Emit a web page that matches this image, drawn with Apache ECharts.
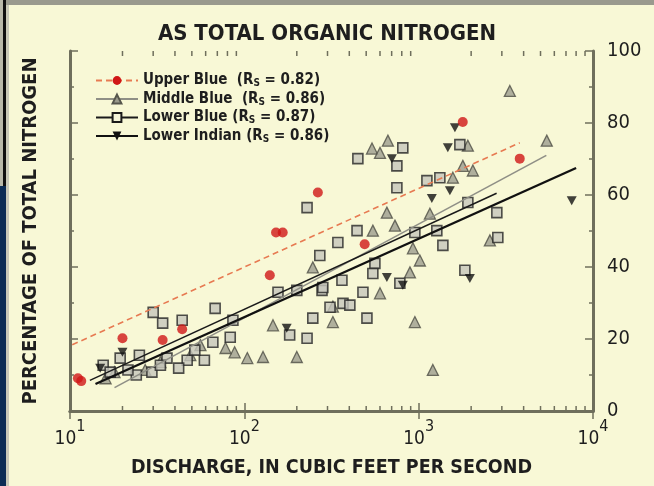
<!DOCTYPE html>
<html>
<head>
<meta charset="utf-8">
<script src="https://cdn.jsdelivr.net/npm/echarts@6/dist/echarts.min.js"></script>
<style>
  html, body { margin: 0; padding: 0; background: #f8f8d6; }
  #chart { width: 654px; height: 486px; }
</style>
</head>
<body>
<div id="chart"></div>
<script>
// Discharge (cfs) vs. percentage of total nitrogen present as organic nitrogen

const seriesNames = ['Upper Blue', 'Middle Blue', 'Lower Blue', 'Lower Indian'];
const spearman = { 'Upper Blue': '0.82', 'Middle Blue': '0.86', 'Lower Blue': '0.87', 'Lower Indian': '0.86' };
const nameGap = { 'Upper Blue': '  ', 'Middle Blue': '  ', 'Lower Blue': ' ', 'Lower Indian': ' ' };

// [discharge, percent]
const upperBlue = [
  [11.1, 9.1], [11.6, 8.3], [20, 20.2], [34, 19.7], [44, 22.7], [140, 37.7],
  [152, 49.6], [166, 49.6], [264, 60.7], [490, 46.3], [1790, 80.3], [3800, 70.1]
];

const middleBlue = [
  [3334, 88.9], [5430, 75.1], [666, 75.1], [540, 72.9], [600, 71.7], [1915, 73.7],
  [1792, 68.1], [2046, 66.8], [1571, 64.8], [657, 55.1], [1160, 54.8], [546, 50.1],
  [731, 51.5], [927, 45.2], [1016, 41.8], [891, 38.5], [600, 32.7], [322, 24.7],
  [951, 24.7], [1206, 11.4], [88, 16.3], [104, 14.7], [128, 15], [200, 15],
  [247, 39.9], [2561, 47.4], [16, 9.1], [18, 10.8], [27, 11.4], [33, 13.6],
  [49, 15.5], [56, 18.3], [78, 17.5], [146, 23.8], [322, 29]
];

const lowerBlue = [
  [448, 70.1], [811, 73.1], [750, 68.1], [1723, 74], [750, 62], [1115, 64],
  [1323, 64.8], [1915, 57.9], [2808, 55.1], [443, 50.1], [344, 46.8], [951, 49.6],
  [1271, 50.1], [1377, 46], [2845, 48.2], [271, 43.2], [561, 41], [1841, 39.1],
  [156, 33], [200, 33.5], [279, 33.5], [363, 36.3], [68, 28.5], [86, 25.2],
  [30, 27.4], [34, 24.4], [44, 25.2], [83, 20.5], [66, 19.1], [59, 14.1],
  [47, 14.1], [36, 14.7], [25, 15.5], [19.4, 14.7], [24, 10], [29.5, 10.8],
  [42, 11.9], [247, 25.8], [368, 29.9], [182, 21.1], [229, 20.2], [310, 28.8],
  [780, 35.5], [479, 33], [282, 34.3], [403, 29.4], [505, 25.8], [546, 38.2],
  [229, 56.5], [15.5, 12.7], [17, 10.8], [21.5, 11.4], [33, 12.7], [52, 16.9]
];

const lowerIndian = [
  [14.9, 11.9], [20, 16.3], [175, 23], [657, 37.1], [702, 70.1], [1190, 59],
  [1510, 61.2], [1470, 73.1], [1614, 78.7], [1966, 36.8], [7550, 58.4], [811, 34.9]
];

// Fitted trend lines (endpoints in data units)
const upperBlueTrend = [[10.3, 18.4], [3800, 74.5]];
const middleBlueTrend = [[18, 6.5], [5400, 71]];
const lowerBlueTrend = [[13, 8.5], [2800, 60.5]];
const lowerIndianTrend = [[14, 7.5], [8000, 67.5]];

// Axis ticks
const yTicks = [0, 20, 40, 60, 80, 100];
const xMajorTicks = [10, 100, 1000, 10000];
const xMinorTicks = [20, 30, 40, 50, 60, 70, 80, 90, 200, 300, 400, 500, 600, 700, 800, 900,
  2000, 3000, 4000, 5000, 6000, 7000, 8000, 9000];

const FONT = "'Liberation Sans Narrow','DejaVu Sans Condensed','Liberation Sans',Arial,sans-serif";
const AXIS_COLOR = '#6f6f5c';
const TEXT = '#1e1e1e';
const downTriangle = 'path://M0,0 L10,0 L5,9 Z';

const chart = echarts.init(document.getElementById('chart'), null, { renderer: 'canvas' });

const frameAxis = {
  axisLine: { show: true, lineStyle: { color: AXIS_COLOR, width: 3 } },
  axisTick: { show: true, inside: true, length: 8, lineStyle: { color: AXIS_COLOR, width: 1.5 } },
  splitLine: { show: false }
};

chart.setOption({
  backgroundColor: '#f8f8d6',
  animation: false,
  title: {
    text: 'AS TOTAL ORGANIC NITROGEN',
    left: 'center',
    top: 18,
    textStyle: { fontFamily: FONT, fontSize: 22, fontWeight: 'bold', color: TEXT }
  },
  grid: { left: 70, right: 61, top: 51, bottom: 75 },
  legend: {
    data: seriesNames,
    orient: 'vertical',
    left: 90,
    top: 68,
    itemWidth: 42,
    itemHeight: 11,
    itemGap: 3,
    selectedMode: false,
    formatter: function (name) {
      return '{a|' + name + nameGap[name] + '(R}{s|S}{a| = ' + spearman[name] + ')}';
    },
    textStyle: {
      rich: {
        a: { fontFamily: FONT, fontSize: 15, fontWeight: 'bold', color: TEXT, lineHeight: 16 },
        s: { fontFamily: FONT, fontSize: 10, fontWeight: 'bold', color: TEXT, verticalAlign: 'bottom', lineHeight: 16 }
      }
    }
  },
  xAxis: [
    Object.assign({
      type: 'log', logBase: 10, min: 10, max: 10000, position: 'bottom',
      name: 'DISCHARGE, IN CUBIC FEET PER SECOND',
      nameLocation: 'middle',
      nameGap: 47,
      nameTextStyle: { fontFamily: FONT, fontSize: 19.5, fontWeight: 'bold', color: TEXT },
      axisLabel: {
        margin: 8,
        formatter: function (v) {
          return '{b|10}{e|' + Math.round(Math.log10(v)) + '}';
        },
        rich: {
          b: { fontFamily: FONT, fontSize: 19, color: TEXT, lineHeight: 30, verticalAlign: 'bottom' },
          e: { fontFamily: FONT, fontSize: 16, color: TEXT, lineHeight: 30, verticalAlign: 'top' }
        }
      }
    }, frameAxis),
    Object.assign({
      type: 'log', logBase: 10, min: 10, max: 10000, position: 'top',
      axisLabel: { show: false }
    }, frameAxis)
  ],
  yAxis: [
    Object.assign({
      type: 'value', min: 0, max: 100, interval: 20, position: 'right',
      minorTick: { show: true, splitNumber: 2, length: 4, lineStyle: { color: AXIS_COLOR, width: 1.5 } },
      axisLabel: { margin: 14, fontFamily: FONT, fontSize: 20, color: TEXT,
        formatter: function (v) { return yTicks.indexOf(v) >= 0 ? String(v) : ''; } }
    }, frameAxis),
    Object.assign({
      type: 'value', min: 0, max: 100, interval: 20, position: 'left',
      name: 'PERCENTAGE OF TOTAL NITROGEN',
      nameLocation: 'middle',
      nameGap: 29,
      nameRotate: 90,
      nameTextStyle: { fontFamily: FONT, fontSize: 20, fontWeight: 'bold', color: TEXT },
      minorTick: { show: true, splitNumber: 2, length: 4, lineStyle: { color: AXIS_COLOR, width: 1.5 } },
      axisLabel: { show: false }
    }, frameAxis)
  ],
  series: [
    // trend lines first so the legend uses the line + marker icon
    {
      type: 'line', name: 'Upper Blue', data: upperBlueTrend, z: 4,
      symbol: 'circle', symbolSize: 10, showSymbol: false,
      lineStyle: { color: '#e77a52', width: 1.6, type: [6, 4] },
      itemStyle: { color: '#d01616' }
    },
    {
      type: 'line', name: 'Middle Blue', data: middleBlueTrend, z: 4,
      symbol: 'triangle', symbolSize: 10, showSymbol: false,
      lineStyle: { color: '#8f8f86', width: 1.6 },
      itemStyle: { color: '#9a9a8c', borderColor: '#55554c', borderWidth: 1 }
    },
    {
      type: 'line', name: 'Lower Blue', data: lowerBlueTrend, z: 4,
      symbol: 'rect', symbolSize: 9, showSymbol: false,
      lineStyle: { color: '#1a1a1a', width: 1.5 },
      itemStyle: { color: '#f3f3d8', borderColor: '#1a1a1a', borderWidth: 1.5 }
    },
    {
      type: 'line', name: 'Lower Indian', data: lowerIndianTrend, z: 4,
      symbol: downTriangle, symbolSize: 9, showSymbol: false,
      lineStyle: { color: '#111', width: 2.4 },
      itemStyle: { color: '#111' }
    },
    {
      type: 'scatter', name: 'Middle Blue', data: middleBlue, z: 2,
      symbol: 'triangle', symbolSize: 11,
      itemStyle: { color: '#9c9c8e', borderColor: '#4d4d45', borderWidth: 1.3 }
    },
    {
      type: 'scatter', name: 'Lower Blue', data: lowerBlue, z: 2,
      symbol: 'rect', symbolSize: 10,
      itemStyle: { color: '#c6c6bc', borderColor: '#262626', borderWidth: 1.6 }
    },
    {
      type: 'scatter', name: 'Lower Indian', data: lowerIndian, z: 3,
      symbol: downTriangle, symbolSize: [10, 9],
      itemStyle: { color: '#111' }
    },
    {
      type: 'scatter', name: 'Upper Blue', data: upperBlue, z: 3,
      symbol: 'circle', symbolSize: 10,
      itemStyle: { color: '#d01616' }
    },
    // log minor ticks on the bottom and top frame edges
    {
      type: 'custom', silent: true, z: 6,
      data: xMinorTicks.map(function (v) { return [v, 0]; }),
      encode: { x: 0, y: 1 },
      renderItem: function (params, api) {
        const v = api.value(0);
        const b = api.coord([v, 0]);
        const t = api.coord([v, 100]);
        const st = { stroke: AXIS_COLOR, lineWidth: 1.5 };
        return {
          type: 'group',
          children: [
            { type: 'line', shape: { x1: b[0], y1: b[1], x2: b[0], y2: b[1] - 5 }, style: st },
            { type: 'line', shape: { x1: t[0], y1: t[1], x2: t[0], y2: t[1] + 5 }, style: st }
          ]
        };
      }
    }
  ],
  graphic: [
    { type: 'rect', shape: { x: 0, y: 0, width: 654, height: 5 }, style: { fill: '#9a9a8e' }, silent: true },
    { type: 'rect', shape: { x: 0, y: 0, width: 3, height: 186 }, style: { fill: '#b9b9aa' }, silent: true },
    { type: 'rect', shape: { x: 3, y: 0, width: 3, height: 186 }, style: { fill: '#111' }, silent: true },
    { type: 'rect', shape: { x: 0, y: 186, width: 6, height: 300 }, style: { fill: '#0c2c55' }, silent: true },
    { type: 'rect', shape: { x: 6, y: 5, width: 3, height: 481 }, style: { fill: '#c9c9b8' }, silent: true }
  ]
});
</script>
</body>
</html>
